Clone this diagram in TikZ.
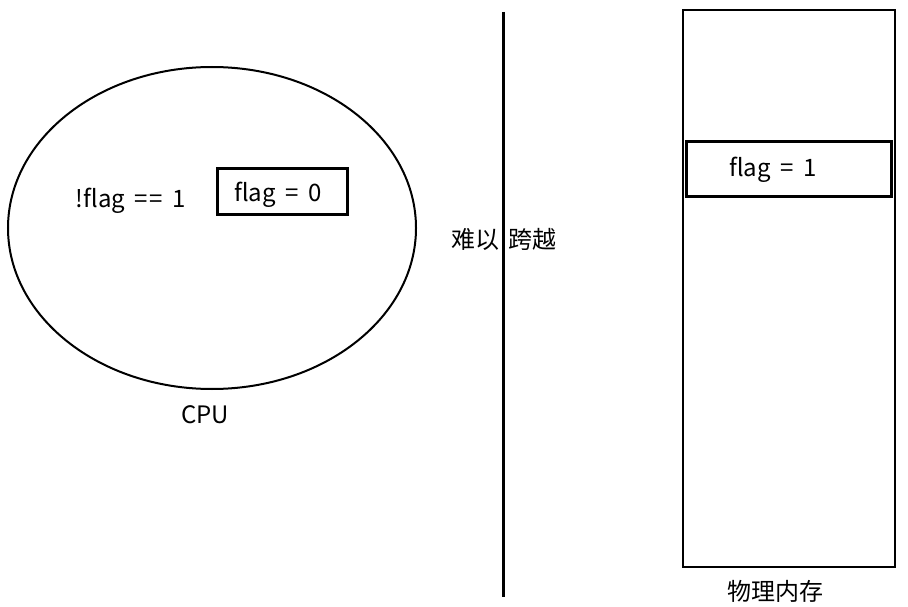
\documentclass[tikz,border=0pt]{standalone}
\usepackage{fontspec}
\setmainfont[WordSpace=1.8]{Noto Sans CJK SC}
\usetikzlibrary{positioning, shapes.geometric}

\tikzset{
  rotulo/.style={font=\fontsize{24}{28}\selectfont, inner sep=0pt},
  caixa/.style={draw, line width=3pt, minimum width=130pt, minimum height=45pt}
}

\begin{document}
\begin{tikzpicture}[x=1pt, y=-1pt]

% Area total
\useasboundingbox (0,0) rectangle (908,607);

% CPU
\node[ellipse, draw, line width=2pt, minimum width=408pt, minimum height=322pt] (cpu) at (212,228) {};
\node[rotulo] (cond) at (131,201) {!flag =\kern1.5pt= 1};
\node[caixa] (cache) at (282,191.5) {};
\node[rotulo] at (278,195) {flag = 0};
\node[rotulo] (cpulabel) at (205,415) {CPU};

% Barreira
\coordinate (topo) at (503,12);
\coordinate (base) at (503,597);
\draw[line width=3pt] (topo) -- (base);
\node[rotulo] (barreira) at (504,239) {难以 跨越};

% Memoria fisica
\node[draw, line width=2.5pt, minimum width=212pt, minimum height=557pt] (mem) at (789,288.5) {};
\node[draw, line width=3pt, minimum width=205pt, minimum height=54pt] (var) at (788.5,169) {};
\node[rotulo] (varlabel) at (773,170) {flag = 1};
\node[rotulo] (memlabel) at (775,591) {物理内存};

\end{tikzpicture}
\end{document}
